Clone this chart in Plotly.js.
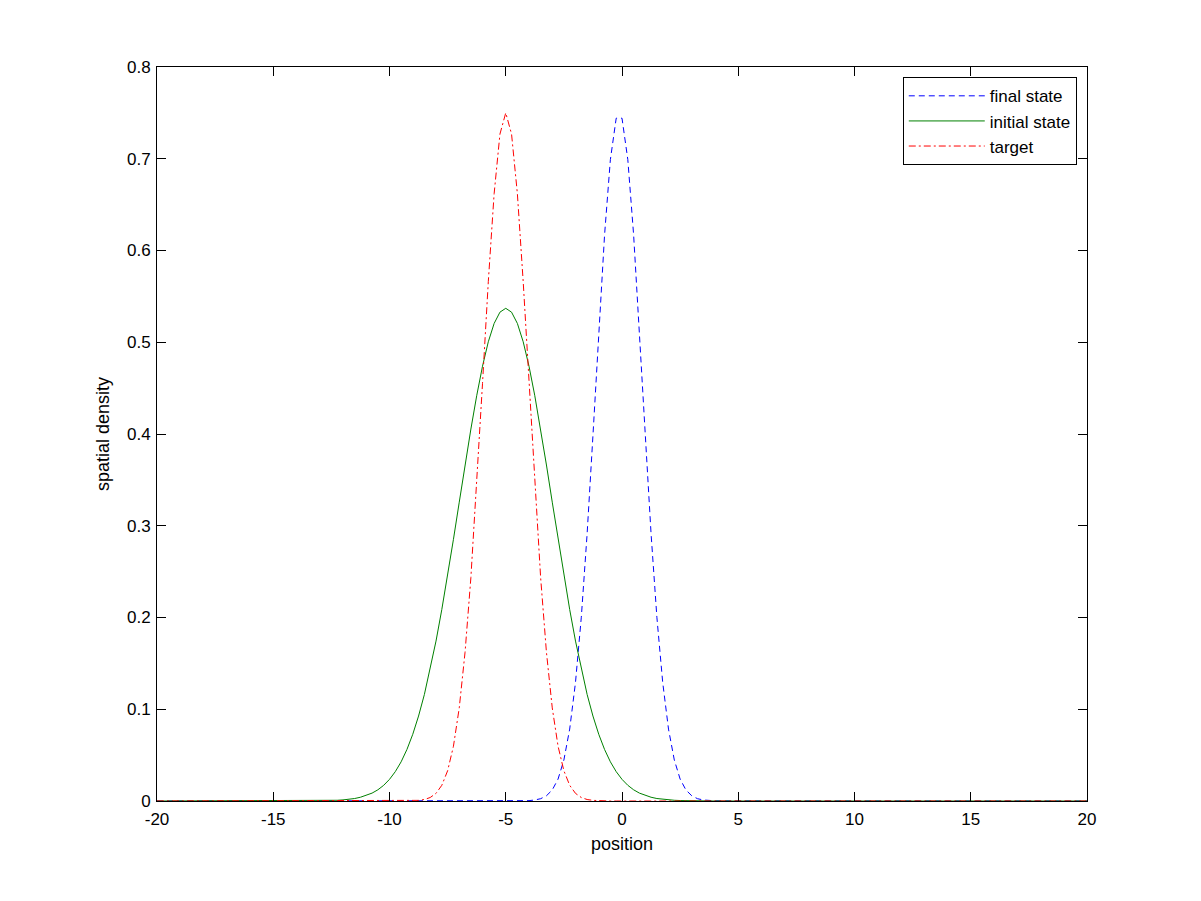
<!DOCTYPE html>
<html>
<head>
<meta charset="utf-8">
<script src="https://cdn.plot.ly/plotly-3.0.1.min.js"></script>
<style>html,body{margin:0;padding:0;background:#fff;}#chart{width:1201px;height:901px;}</style>
</head>
<body>
<div id="chart"></div>
<script>
// position grid (shared by the three series)
var position = [-20,
 -13,-12.75,-12.5,-12.25,-12,-11.75,-11.5,-11.25,-11,-10.75,-10.5,-10.25,-10,-9.75,-9.5,-9.25,
 -9,-8.75,-8.5,-8.25,-8,-7.75,-7.5,-7.25,-7,-6.75,-6.5,-6.25,-6,-5.75,-5.5,-5.25,
 -5,-4.75,-4.5,-4.25,-4,-3.75,-3.5,-3.25,-3,-2.75,-2.5,-2.25,-2,-1.75,-1.5,-1.25,
 -1,-0.75,-0.5,-0.25,0,0.25,0.5,0.75,1,1.25,1.5,1.75,2,2.25,2.5,2.75,
 3,3.25,3.5,3.75,4,
 20];

var finalState = [0,
 0,0,0,0,0,0,0,0,0,0,0,0,0,0,0,0,
 0,0,0,0,0,0,0,0,0,0,0,0,0,0,0,0,
 0,0,0.0001,0.0002,0.0004,0.0011,0.0025,0.0057,0.0120,0.0239,0.0447,0.0784,0.1293,0.2003,0.2914,0.3983,
 0.5115,0.6169,0.6991,0.7442,0.7442,0.6991,0.6169,0.5115,0.3983,0.2914,0.2003,0.1293,0.0784,0.0447,0.0239,0.0120,
 0.0057,0.0025,0.0011,0.0004,0.0002,
 0];

var initialState = [0,
 0.0002,0.0003,0.0005,0.0008,0.0012,0.0018,0.0027,0.0041,0.0060,0.0086,0.0122,0.0171,0.0236,0.0320,0.0427,0.0562,
 0.0727,0.0926,0.1161,0.1434,0.1743,0.2087,0.2459,0.2852,0.3257,0.3662,0.4054,0.4417,0.4739,0.5005,0.5205,0.5328,
 0.5370,0.5328,0.5205,0.5005,0.4739,0.4417,0.4054,0.3662,0.3257,0.2852,0.2459,0.2087,0.1743,0.1434,0.1161,0.0926,
 0.0727,0.0562,0.0427,0.0320,0.0236,0.0171,0.0122,0.0086,0.0060,0.0041,0.0027,0.0018,0.0012,0.0008,0.0005,0.0003,
 0.0002,0.0001,0.0001,0,0,
 0];

var target = [0,
 0,0,0,0,0,0,0,0,0,0,0,0,0,0,0,0,
 0.0003,0.0007,0.0016,0.0038,0.0083,0.0171,0.0330,0.0597,0.1015,0.1622,0.2435,0.3434,0.4549,0.5661,0.6619,0.7269,
 0.7500,0.7269,0.6619,0.5661,0.4549,0.3434,0.2435,0.1622,0.1015,0.0597,0.0330,0.0171,0.0083,0.0038,0.0016,0.0007,
 0.0003,0,0,0,0,0,0,0,0,0,0,0,0,0,0,0,
 0,0,0,0,0,
 0];

var seriesNames = ["final state", "initial state", "target"];
var xTickVals = [-20,-15,-10,-5,0,5,10,15,20];
var xTickText = ["-20","-15","-10","-5","0","5","10","15","20"];
var yTickVals = [0,0.1,0.2,0.3,0.4,0.5,0.6,0.7,0.8];
var yTickText = ["0","0.1","0.2","0.3","0.4","0.5","0.6","0.7","0.8"];

var FONT = "Liberation Sans, Arial, Helvetica, sans-serif";

var traces = [
  {x: position, y: finalState, name: seriesNames[0], mode: "lines", type: "scatter",
   line: {color: "#0000ff", width: 1, dash: "6px,4px"}},
  {x: position, y: initialState, name: seriesNames[1], mode: "lines", type: "scatter",
   line: {color: "#008000", width: 1, dash: "solid"}},
  {x: position, y: target, name: seriesNames[2], mode: "lines", type: "scatter",
   line: {color: "#ff0000", width: 1, dash: "7px,3px,2px,3px"}}
];

var axisCommon = {
  showline: true, linecolor: "#000", linewidth: 1, mirror: "ticks",
  ticks: "inside", ticklen: 9, tickwidth: 1, tickcolor: "#000",
  showgrid: false, zeroline: false, tickmode: "array",
  tickfont: {family: FONT, size: 17, color: "#000"}
};

var layout = {
  width: 1201, height: 901,
  paper_bgcolor: "#fff", plot_bgcolor: "#fff",
  margin: {l: 157, r: 114, t: 67, b: 100, pad: 0},
  showlegend: true,
  xaxis: Object.assign({}, axisCommon, {
    range: [-20, 20], tickvals: xTickVals, ticktext: xTickText, ticklabelstandoff: 3,
    title: {text: "position", font: {family: FONT, size: 18, color: "#000"}, standoff: 8}
  }),
  yaxis: Object.assign({}, axisCommon, {
    range: [0, 0.8], tickvals: yTickVals, ticktext: yTickText, ticklabelstandoff: 2,
    title: {text: "spatial density", font: {family: FONT, size: 18, color: "#000"}, standoff: 12}
  }),
  legend: {
    x: 0.989, y: 0.986, xanchor: "right", yanchor: "top",
    bgcolor: "#fff", bordercolor: "#000", borderwidth: 1,
    font: {family: FONT, size: 17, color: "#000"},
    itemwidth: 76, tracegroupgap: 0
  }
};

Plotly.newPlot("chart", traces, layout, {displayModeBar: false, staticPlot: true});
</script>
</body>
</html>
